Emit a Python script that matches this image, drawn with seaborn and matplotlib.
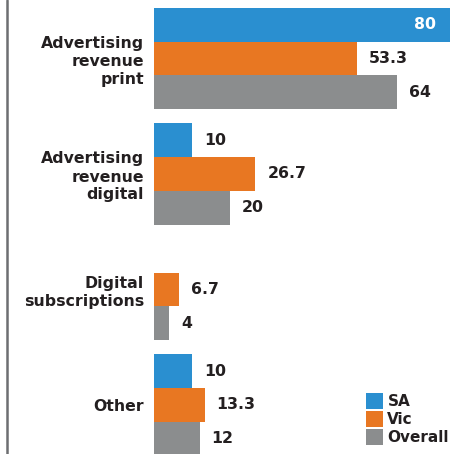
import matplotlib
matplotlib.use("Agg")
import matplotlib.pyplot as plt
from matplotlib.lines import Line2D
import numpy as np
import pandas as pd
import seaborn as sns

# Revenue sources, share of respondents (%)
categories = ["Advertising\nrevenue\nprint", "Advertising\nrevenue\ndigital",
              "Digital\nsubscriptions", "Other"]
series = ["SA", "Vic", "Overall"]
sa_values = [80, 10, np.nan, 10]
vic_values = [53.3, 26.7, 6.7, 13.3]
overall_values = [64, 20, 4, 12]

colors = {"SA": "#2a8fd0", "Vic": "#e87722", "Overall": "#8b8d8e"}
text_color = "#231f20"

rows = []
for name, vals in zip(series, [sa_values, vic_values, overall_values]):
    for cat, v in zip(categories, vals):
        rows.append({"category": cat, "series": name, "value": v})
df = pd.DataFrame(rows)

sns.set_theme(style="white")
plt.rcParams["font.family"] = ["DejaVu Sans"]

fig = plt.figure(figsize=(4.5, 4.54), dpi=100)
ax = fig.add_axes([154 / 450, 0, 296 / 450, 1])

sns.barplot(data=df.dropna(), x="value", y="category", hue="series",
            order=categories, hue_order=series, palette=colors,
            orient="h", width=0.883, saturation=1, errorbar=None,
            linewidth=0, ax=ax)

ax.set_xlim(0, 296 / 3.8)
ax.set_ylim(3 + 49 / 115.5, -58.5 / 115.5)
ax.set_xlabel("")
ax.set_ylabel("")
ax.set_xticks([])
sns.despine(ax=ax, left=True, bottom=True)
ax.tick_params(axis="y", length=0, pad=7.2)
for lbl in ax.get_yticklabels():
    lbl.set_fontweight("bold")
    lbl.set_fontsize(11.3)
    lbl.set_color(text_color)
    lbl.set_horizontalalignment("right")
    lbl.set_linespacing(1.25)

xmax = ax.get_xlim()[1]
for container in ax.containers:
    for bar in container:
        w = bar.get_width()
        if not np.isfinite(w) or w == 0:
            continue
        yc = bar.get_y() + bar.get_height() / 2
        label = f"{w:g}"
        if w > xmax:
            ax.annotate(label, (w, yc), xytext=(-22, 0), textcoords="offset pixels",
                        ha="right", va="center", color="white", fontweight="bold",
                        fontsize=11.3, annotation_clip=False)
        else:
            ax.annotate(label, (w, yc), xytext=(12, 0), textcoords="offset pixels",
                        ha="left", va="center", color=text_color, fontweight="bold",
                        fontsize=11.3, annotation_clip=False)

leg = ax.legend(loc="lower left", bbox_to_anchor=(366 / 450, 9 / 454),
                bbox_transform=fig.transFigure, frameon=False,
                borderpad=0, borderaxespad=0, handlelength=1.1, handleheight=1.2,
                handletextpad=0.3, labelspacing=0.12,
                prop={"weight": "bold", "size": 11})
for t in leg.get_texts():
    t.set_color(text_color)

# Left rule
fig.add_artist(Line2D([6.5 / 450, 6.5 / 450], [0, 1], transform=fig.transFigure,
                      color="#6d6e71", linewidth=1.8))

fig.savefig("out.png", dpi=100)
